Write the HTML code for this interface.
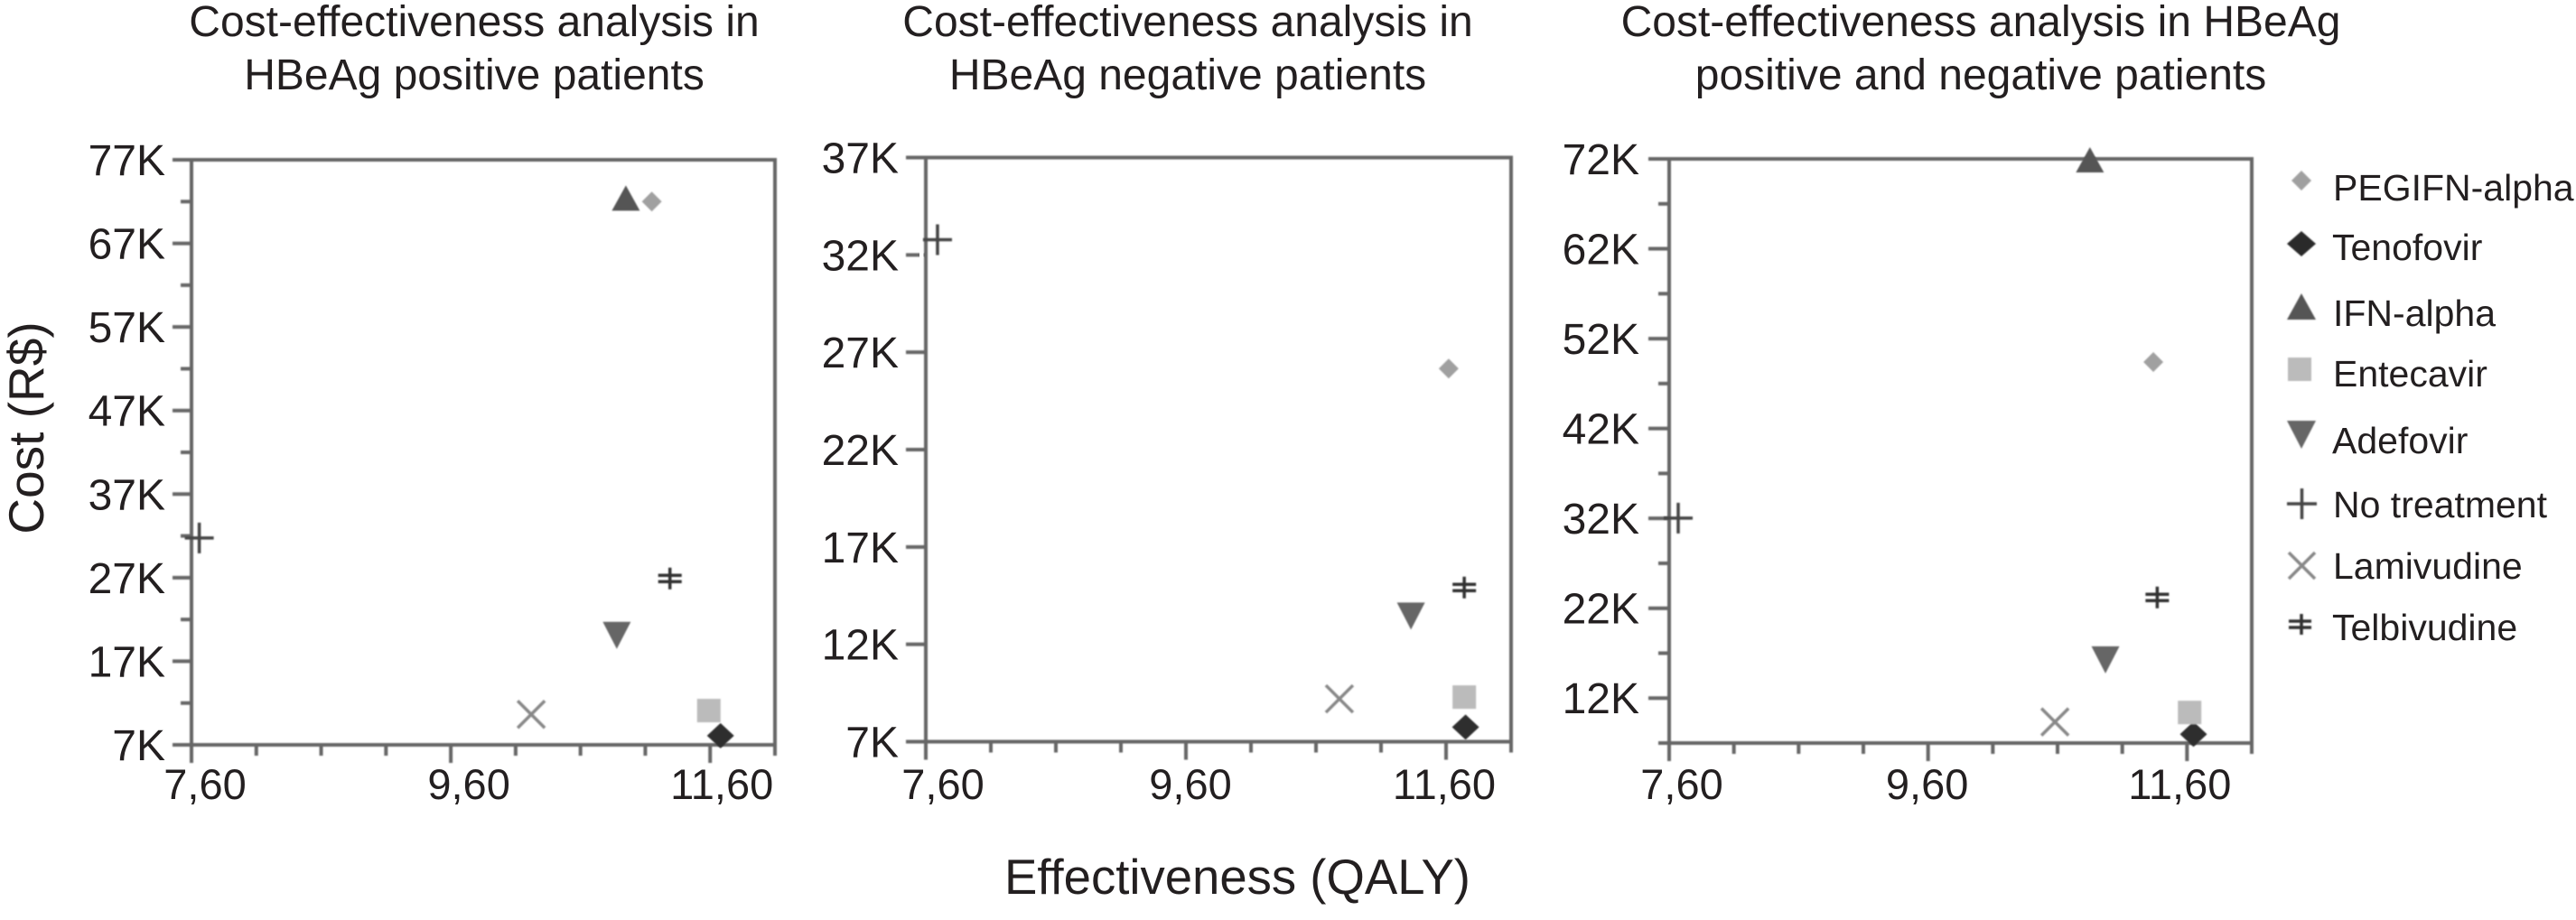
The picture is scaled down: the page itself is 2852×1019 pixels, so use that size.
<!DOCTYPE html>
<html lang="en">
<head>
<meta charset="utf-8">
<title>Cost-effectiveness analysis</title>
<style>
  html, body { margin: 0; padding: 0; background: #fff; }
  svg { display: block; font-family: "Liberation Sans", Arial, sans-serif; }
  text { fill: #231f20; }
</style>
</head>
<body>
<svg id="chart" xmlns="http://www.w3.org/2000/svg" width="2852" height="1019" viewBox="0 0 2852 1019">
  <defs>
    <filter id="soft" x="-5%" y="-5%" width="110%" height="110%"><feGaussianBlur stdDeviation="0.8"/></filter>
  </defs>
  <rect x="0" y="0" width="2852" height="1019" fill="#fff"/>

  <g font-size="48" text-anchor="middle">
    <text x="525" y="40">Cost-effectiveness analysis in</text>
    <text x="525" y="99">HBeAg positive patients</text>
  </g>
  <g font-size="48" text-anchor="middle">
    <text x="1315" y="40">Cost-effectiveness analysis in</text>
    <text x="1315" y="99">HBeAg negative patients</text>
  </g>
  <g font-size="48" text-anchor="middle">
    <text x="2193" y="40">Cost-effectiveness analysis in HBeAg</text>
    <text x="2193" y="99">positive and negative patients</text>
  </g>

  <text font-size="55" text-anchor="middle" transform="translate(48 474) rotate(-90)">Cost (R$)</text>
  <text font-size="54.5" text-anchor="middle" x="1370" y="990">Effectiveness (QALY)</text>

  <g id="panels"></g>

  <g>
    <g filter="url(#soft)">
      <polygon points="2548,189 2559,200 2548,211 2537,200" fill="#a0a0a0"/>
      <polygon points="2548,256 2564,270 2548,284 2532,270" fill="#2b2b2b"/>
      <polygon points="2548,325 2564,354 2532,354" fill="#555"/>
      <rect x="2533" y="396" width="26" height="26" fill="#bbb"/>
      <polygon points="2532,466 2564,466 2548,497" fill="#666"/>
      <path d="M2532 558H2565M2548.5 541V575" stroke="#444" stroke-width="3.5" fill="none"/>
      <path d="M2534 612L2563 641M2563 612L2534 641" stroke="#888" stroke-width="3.5" fill="none"/>
      <path d="M2534 688H2559M2534 695H2559M2548 680V703" stroke="#333" stroke-width="3.5" fill="none"/>
    </g>
    <g font-size="41">
      <text x="2583" y="222">PEGIFN-alpha</text>
      <text x="2582" y="288">Tenofovir</text>
      <text x="2583" y="361">IFN-alpha</text>
      <text x="2583" y="428">Entecavir</text>
      <text x="2582" y="502">Adefovir</text>
      <text x="2583" y="573">No treatment</text>
      <text x="2583" y="641">Lamivudine</text>
      <text x="2582" y="709">Telbivudine</text>
    </g>
  </g>
</svg>

<script>
// ---- Data ----
const seriesNames = ["PEGIFN-alpha", "Tenofovir", "IFN-alpha", "Entecavir", "Adefovir", "No treatment", "Lamivudine", "Telbivudine"];

const effectivenessPositive = [11.15, 11.68, 10.95, 11.59, 10.88, 7.66, 10.22, 11.29];
const costPositive = [72, 8.1, 72.2, 11.1, 20.1, 31.75, 10.65, 26.9];

const effectivenessNegative = [11.62, 11.75, null, 11.74, 11.33, 7.69, 10.78, 11.74];
const costNegative = [26.16, 7.75, null, 9.29, 13.45, 32.78, 9.2, 14.92];

const effectivenessCombined = [11.34, 11.65, 10.85, 11.62, 10.97, 7.67, 10.58, 11.37];
const costCombined = [49.4, 7.98, 71.7, 10.4, 16.26, 32.03, 9.35, 23.2];

const xMajorTicks = [7.6, 9.6, 11.6];
const xMajorTickLabels = ["7,60", "9,60", "11,60"];
const xMinorTicks = [8.1, 8.6, 9.1, 10.1, 10.6, 11.1, 12.1];

const yMajorPositive = [7, 17, 27, 37, 47, 57, 67, 77];
const yMinorPositive = [12, 22, 32, 42, 52, 62, 72];
const yMajorNegative = [7, 12, 17, 22, 27, 32, 37];
const yMinorNegative = [];
const yMajorCombined = [12, 22, 32, 42, 52, 62, 72];
const yMinorCombined = [7, 17, 27, 37, 47, 57, 67];

// ---- Layout ----
const xDomain = [7.6, 12.1];
const panels = [
  { key: "positive", xs: effectivenessPositive, ys: costPositive, yMajor: yMajorPositive, yMinor: yMinorPositive,
    yDomain: [7, 77], left: 212, right: 858, top: 177, bottom: 825, tickStart: 191, yLabelX: 183, xNudge: [15, 20, 13] },
  { key: "negative", xs: effectivenessNegative, ys: costNegative, yMajor: yMajorNegative, yMinor: yMinorNegative,
    yDomain: [7, 37], left: 1025, right: 1673, top: 174.5, bottom: 821.5, tickStart: 1003, yLabelX: 995, xNudge: [19, 5, -2] },
  { key: "combined", xs: effectivenessCombined, ys: costCombined, yMajor: yMajorCombined, yMinor: yMinorCombined,
    yDomain: [7, 72], left: 1848, right: 2493, top: 176, bottom: 823, tickStart: 1825, yLabelX: 1815, xNudge: [14, -1, -8] }
];

const NS = "http://www.w3.org/2000/svg";
const root = document.getElementById("panels");

function make(tag, attrs, parent) {
  const el = document.createElementNS(NS, tag);
  for (const k in attrs) el.setAttribute(k, attrs[k]);
  parent.appendChild(el);
  return el;
}

function slug(s) {
  return s.toLowerCase().replace(/[^a-z0-9]+/g, "-");
}

function drawMarker(name, cx, cy, parent) {
  let el;
  if (name === "PEGIFN-alpha") {
    el = make("polygon", { points: [cx, cy - 11, cx + 11, cy, cx, cy + 11, cx - 11, cy].join(","), fill: "#a0a0a0" }, parent);
  } else if (name === "Tenofovir") {
    el = make("polygon", { points: [cx, cy - 14, cx + 15, cy, cx, cy + 14, cx - 15, cy].join(","), fill: "#2f2f2f" }, parent);
  } else if (name === "IFN-alpha") {
    el = make("polygon", { points: [cx, cy - 16, cx + 15.5, cy + 12, cx - 15.5, cy + 12].join(","), fill: "#555" }, parent);
  } else if (name === "Entecavir") {
    el = make("rect", { x: cx - 13, y: cy - 13, width: 26, height: 26, fill: "#bbb" }, parent);
  } else if (name === "Adefovir") {
    el = make("polygon", { points: [cx - 15.5, cy - 15, cx + 15.5, cy - 15, cx, cy + 15].join(","), fill: "#666" }, parent);
  } else if (name === "No treatment") {
    el = make("path", { d: `M${cx - 16} ${cy}H${cx + 16}M${cx} ${cy - 17}V${cy + 17}`, stroke: "#444", "stroke-width": 3.5, fill: "none" }, parent);
  } else if (name === "Lamivudine") {
    el = make("path", { d: `M${cx - 15} ${cy - 15}L${cx + 15} ${cy + 15}M${cx + 15} ${cy - 15}L${cx - 15} ${cy + 15}`, stroke: "#888", "stroke-width": 3.5, fill: "none" }, parent);
  } else {
    el = make("path", { d: `M${cx - 13} ${cy - 3.5}H${cx + 13}M${cx - 13} ${cy + 3.5}H${cx + 13}M${cx} ${cy - 12}V${cy + 12}`, stroke: "#333", "stroke-width": 3.5, fill: "none" }, parent);
  }
  return el;
}

panels.forEach(function (p) {
  const sx = v => p.left + (v - xDomain[0]) / (xDomain[1] - xDomain[0]) * (p.right - p.left);
  const sy = v => p.bottom - (v - p.yDomain[0]) / (p.yDomain[1] - p.yDomain[0]) * (p.bottom - p.top);

  const g = make("g", {}, root);
  
  

  const axes = make("g", { filter: "url(#soft)", stroke: "#666", "stroke-width": 4, fill: "none" }, g);
  
  

  const frame = make("rect", { x: p.left, y: p.top, width: p.right - p.left, height: p.bottom - p.top }, axes);
  
  

  p.yMajor.forEach(function (v) {
    const t = make("line", { x1: p.tickStart, x2: p.left, y1: sy(v), y2: sy(v) }, axes);
    
    
    const lab = make("text", { x: p.yLabelX, y: sy(v) + 17, "font-size": 48, "text-anchor": "end" }, g);
    lab.textContent = v + "K";
    
    
  });

  p.yMinor.forEach(function (v) {
    const t = make("line", { x1: p.left - 12, x2: p.left, y1: sy(v), y2: sy(v) }, axes);
    
    
  });

  xMajorTicks.forEach(function (v, i) {
    const t = make("line", { x1: sx(v), x2: sx(v), y1: p.bottom, y2: p.bottom + 20 }, axes);
    
    
    const lab = make("text", { x: sx(v) + p.xNudge[i], y: 885, "font-size": 47, "text-anchor": "middle" }, g);
    lab.textContent = xMajorTickLabels[i];
    
    
  });

  xMinorTicks.forEach(function (v) {
    const t = make("line", { x1: sx(v), x2: sx(v), y1: p.bottom, y2: p.bottom + 12 }, axes);
    
    
  });

  const marks = make("g", { filter: "url(#soft)" }, g);
  
  

  seriesNames.forEach(function (name, i) {
    if (p.xs[i] === null || p.ys[i] === null) return;
    const m = drawMarker(name, sx(p.xs[i]), sy(p.ys[i]), marks);
    
    
  });

  if (p.key === "negative") {
    const gap = make("line", { x1: p.left - 7, x2: p.left - 2.5, y1: sy(32), y2: sy(32), stroke: "#fff", "stroke-width": 7 }, g);
    
    
    const smear = make("line", { x1: p.left - 1.5, x2: p.left - 1.5, y1: p.top + 66, y2: p.top + 141, stroke: "#222", "stroke-width": 3, filter: "url(#soft)" }, g);
    
    
  }
});
</script>
</body>
</html>
